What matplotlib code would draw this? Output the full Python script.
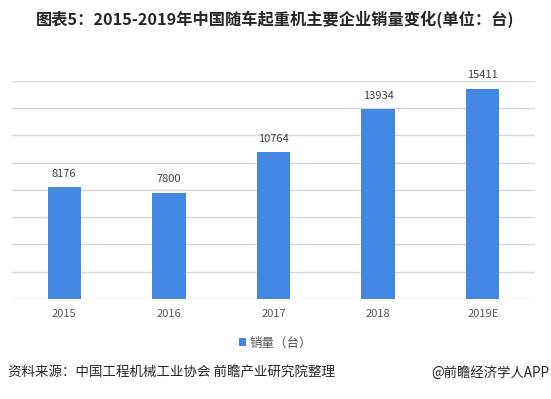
import matplotlib
matplotlib.use("Agg")
import matplotlib.pyplot as plt

plt.rcParams['font.family'] = ['Noto Sans CJK SC', 'DejaVu Sans']

categories = ["2015", "2016", "2017", "2018", "2019E"]
values = [8176, 7800, 10764, 13934, 15411]
series_name = "销量（台）"
title = "图表5：2015-2019年中国随车起重机主要企业销量变化(单位：台)"
source = "资料来源：中国工程机械工业协会 前瞻产业研究院整理"
credit = "@前瞻经济学人APP"

W, H = 551, 399
fig = plt.figure(figsize=(W/100, H/100), dpi=100)
ax = fig.add_axes([12/W, 1-299/H, (535-12)/W, (299-80.7)/H])

color = "#4287E2"
x = list(range(len(categories)))
bars = ax.bar(x, values, width=0.32, color=color, zorder=3, label=series_name)
ax.set_xlim(-0.5, len(categories)-0.5)
ax.set_ylim(0, 16000)
ax.set_yticks(range(0, 16001, 2000))
ax.yaxis.grid(True, color="#D9D9D9", linewidth=1, zorder=0)
ax.tick_params(axis='y', left=False, labelleft=False)
ax.tick_params(axis='x', bottom=False, labelsize=8, colors="#595959", pad=4)
ax.set_xticks(x)
ax.set_xticklabels(categories)
for s in ax.spines.values():
    s.set_visible(False)

for xi, v in zip(x, values):
    ax.annotate(f"{v}", (xi, v), xytext=(0, 6), textcoords="offset points",
                ha="center", va="bottom", fontsize=8, color="#404040")

fig.text(0.5, 1-19/H, title, ha="center", va="center", fontsize=11.7,
         fontweight="bold", color="#262626")

leg = fig.legend(handles=[bars], labels=[series_name], loc="center",
                 bbox_to_anchor=(0.5, 1-343/H), frameon=False, fontsize=9,
                 handlelength=0.6, handleheight=0.6, handletextpad=0.3,
                 labelcolor="#595959")

fig.text(8/W, 1-373/H, source, ha="left", va="center", fontsize=9.7, color="#262626")
fig.text(549/W, 1-373/H, credit, ha="right", va="center", fontsize=9.6, color="#262626")

fig.savefig("out.png", dpi=100)
